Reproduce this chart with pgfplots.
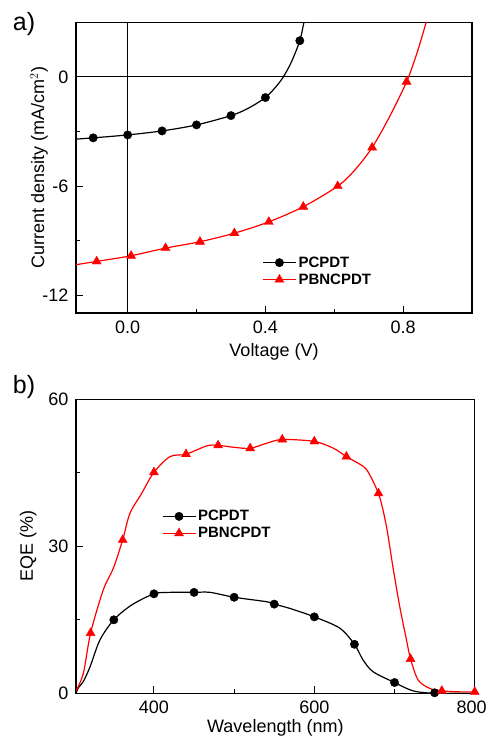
\documentclass[border=0pt]{standalone}
\usepackage{fontspec}
\setmainfont{Liberation Sans}
\usepackage{pgfplots}
\pgfplotsset{compat=1.18}
\pgfplotsset{
  myax/.style={
    scale only axis, clip=true,
    axis line style={line width=1.2pt},
    tick align=inside, xtick pos=bottom, ytick pos=left,
    major tick length=7pt, minor tick length=4pt,
    every tick/.style={line width=1pt, black},
    minor x tick num=1, minor y tick num=1,
    tick label style={font=\fontsize{18}{20}\selectfont},
    /pgf/number format/assume math mode=true,
    xticklabel style={yshift=-4pt},
    yticklabel style={xshift=-4pt},
    legend cell align=left,
    legend style={draw=none, fill=none, font=\bfseries\fontsize{15}{17}\selectfont, row sep=1pt, inner sep=0pt},
  },
  blk/.style={black, line width=1.2pt, smooth, no markers},
  rd/.style={red, line width=1.2pt, smooth, no markers},
  blkm/.style={black, only marks, mark=*, mark size=4.2pt,
    legend image code/.code={\draw[black,line width=1.2pt] (0pt,0pt) -- (33pt,0pt); \fill[black] (16.5pt,0pt) circle (4.2pt);}},
  rdm/.style={red, only marks, mark=triangle*, mark size=5.2pt,
    legend image code/.code={\draw[red,line width=1.2pt] (0pt,0pt) -- (33pt,0pt); \fill[red] (16.5pt,5.2pt) -- (12pt,-2.6pt) -- (21pt,-2.6pt) -- cycle;}},
}
\begin{document}
\begin{tikzpicture}[x=1pt,y=1pt]
\useasboundingbox (0,0) rectangle (488,738);
% ---------- panel a ----------
\begin{axis}[myax,
  at={(76pt,425pt)}, anchor=south west, width=396pt, height=290.7pt,
  xmin=-0.15, xmax=1.0, ymin=-12.95, ymax=3.0,
  xtick={0,0.4,0.8}, xticklabels={0.0,0.4,0.8},
  ytick={-12,-6,0}, yticklabels={-12,-6,0},
  xlabel={Voltage (V)}, ylabel={Current density (mA/cm$^{2}$)},
  every axis x label/.style={at={(axis description cs:0.5,-0.134)}, anchor=center, font=\fontsize{18}{20}\selectfont},
  every axis y label/.style={at={(axis description cs:-0.0934,0.5)}, rotate=90, anchor=center, font=\fontsize{18}{20}\selectfont},
  legend style={at={(axis description cs:0.47,0.144)}, anchor=west},
]
\draw[black, line width=1pt] (axis cs:-0.15,0) -- (axis cs:1.0,0);
\draw[black, line width=1pt] (axis cs:0,-12.95) -- (axis cs:0,3.0);
\addplot[blk, forget plot] coordinates {
(-0.15,-3.41) (-0.1,-3.34) (0,-3.18) (0.1,-2.96) (0.2,-2.63) (0.3,-2.12) (0.35,-1.72) (0.4,-1.13) (0.43,-0.55) (0.452,0) (0.475,0.8) (0.5,1.99) (0.512,3.0) (0.52,3.6)};
\addplot[rd, forget plot] coordinates {
(-0.15,-10.3) (-0.09,-10.12) (0.01,-9.81) (0.11,-9.39) (0.21,-9.04) (0.31,-8.57) (0.41,-7.95) (0.51,-7.12) (0.61,-5.99) (0.66,-5.1) (0.71,-3.87) (0.76,-2.2) (0.81,-0.26) (0.84,1.3) (0.867,3.0) (0.875,3.5)};
\addplot[blkm] coordinates {
(-0.1,-3.34) (0,-3.18) (0.1,-2.96) (0.2,-2.63) (0.3,-2.12) (0.4,-1.13) (0.5,1.99)};
\addlegendentry{PCPDT}
\addplot[rdm] coordinates {
(-0.09,-10.12) (0.01,-9.81) (0.11,-9.39) (0.21,-9.04) (0.31,-8.57) (0.41,-7.95) (0.51,-7.12) (0.61,-5.99) (0.71,-3.87) (0.81,-0.26)};
\addlegendentry{PBNCPDT}
\end{axis}
\node[font=\fontsize{25}{28}\selectfont, anchor=center] at (24,714) {a)};
% ---------- panel b ----------
\begin{axis}[myax,
  at={(76pt,44.7pt)}, anchor=south west, width=398.7pt, height=294pt,
  xmin=302.8, xmax=800, ymin=0, ymax=60,
  xtick={400,600,800}, xticklabels={400,600,\hspace*{-6pt}800}, ytick={0,30,60},
  xlabel={Wavelength (nm)}, ylabel={EQE (\%)},
  every axis x label/.style={at={(axis description cs:0.5,-0.119)}, anchor=center, font=\fontsize{18}{20}\selectfont},
  every axis y label/.style={at={(axis description cs:-0.12,0.5)}, rotate=90, anchor=center, font=\fontsize{18}{20}\selectfont},
  legend style={at={(axis description cs:0.215,0.573)}, anchor=west},
]
\addplot[blk, forget plot] coordinates {
(302.8,0) (306,1.2) (311.9,2.4) (320.3,5.4) (332.7,10.9) (350,15.0) (372,18.0) (400,20.3) (420,20.6) (450,20.6) (470,20.6) (500,19.6) (540,18.7) (550,18.2) (570,17.3) (600,15.6) (631.7,13.3) (650,10.0) (660.8,6.8) (673.3,4.4) (700,2.2) (723,0.5) (748,0) (775,0) (800,0)};
\addplot[rd, forget plot] coordinates {
(302.8,0.5) (312,4.1) (321,12.3) (336.8,21.1) (349.3,25.5) (361,31.3) (370,36.7) (384.7,40.8) (400,45.1) (420,48.3) (440,48.8) (466,50.5) (480,50.6) (500,50.2) (520,50.0) (540,51.0) (560,51.8) (600,51.4) (624,50.0) (640,48.3) (661,46.3) (669,44.6) (681,40.3) (690,34.0) (698,25.8) (706.5,17.7) (714.9,10.9) (720,7.0) (729.5,2.7) (744,1.0) (759,0.5) (780,0.3) (800,0.3)};
\addplot[blkm] coordinates {
(350,15.0) (400,20.3) (450,20.6) (500,19.6) (550,18.2) (600,15.6) (650,10.0) (700,2.2) (750,0.1)};
\addlegendentry{PCPDT}
\addplot[rdm] coordinates {
(321,12.3) (361,31.3) (400,45.1) (440,48.8) (480,50.6) (520,50.0) (560,51.8) (600,51.4) (640,48.3) (680,40.8) (720,7.0) (759,0.5) (800,0.3)};
\addlegendentry{PBNCPDT}
\end{axis}
\node[font=\fontsize{25}{28}\selectfont, anchor=center] at (24,351) {b)};
\end{tikzpicture}
\end{document}
